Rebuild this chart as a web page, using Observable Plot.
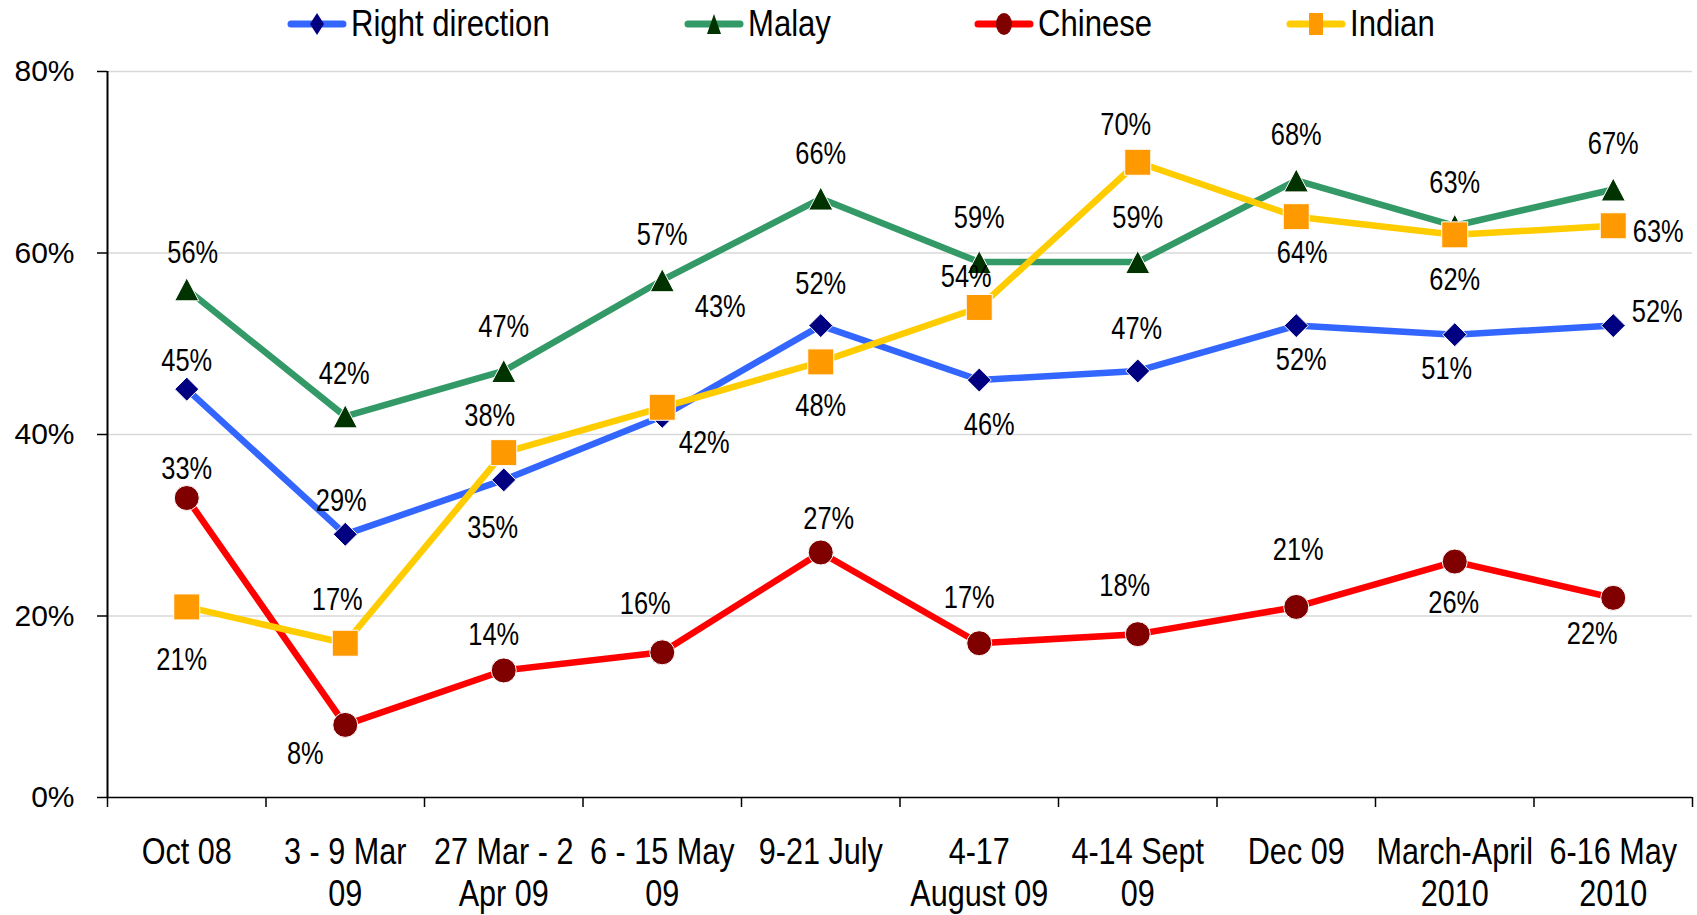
<!DOCTYPE html>
<html><head><meta charset="utf-8">
<script src="https://cdn.jsdelivr.net/npm/d3@7"></script>
<script src="https://cdn.jsdelivr.net/npm/@observablehq/plot@0.6"></script>
<style>
html,body{margin:0;padding:0;background:#fff;}
#wrap{width:1697px;height:915px;position:relative;overflow:hidden;background:#fff;}
#legend{position:relative;width:1697px;height:48px;font-family:"Liberation Sans",Arial,sans-serif;font-size:37px;color:#000;}
.item{position:absolute;top:0;height:48px;display:flex;align-items:center;white-space:nowrap;}
.item span{margin-left:4px;display:inline-block;transform:scaleX(0.84);transform-origin:left center;}
#chart svg{display:block;}
</style></head><body><div id="wrap"><div id="legend"></div><div id="chart"></div></div>
<script>
// ---- data ----
const categories = ["Oct 08","3 - 9 Mar\n09","27 Mar - 2\nApr 09","6 - 15 May\n09","9-21 July","4-17\nAugust 09","4-14 Sept\n09","Dec 09","March-April\n2010","6-16 May\n2010"];
const seriesNames = ["Right direction","Malay","Chinese","Indian"];
const rightDirection = [45,29,35,42,52,46,47,52,51,52];
const malay = [56,42,47,57,66,59,59,68,63,67];
const chinese = [33,8,14,16,27,17,18,21,26,22];
const indian = [21,17,38,43,48,54,70,64,62,63];
const yTicks = [0,20,40,60,80];

// ---- styles ----
const lineColors = ["#3366FF","#339966","#FF0000","#FFCC00"];
const markerColors = ["#000080","#003300","#800000","#FF9900"];
const font = '"Liberation Sans",Arial,sans-serif';
// label offsets [dx, dy] in px, per series / per point
const labelOffsets = [
  [[0,-28],[-4,-33],[-11,48],[42,27],[0,-42],[10,45],[-1,-42],[5,34],[-8,34],[44,-14]],
  [[6,-36],[-1,-42],[0,-44],[0,-45],[0,-44],[0,-44],[0,-44],[0,-45],[0,-43],[0,-45]],
  [[0,-29],[-40,29],[-10,-35],[-17,-48],[8,-33],[-10,-45],[-13,-48],[2,-57],[-1,42],[-21,36]],
  [[-5,53],[-8,-43],[-14,-37],[58,-100],[0,44],[-13,-30],[-12,-37],[6,36],[0,45],[45,6]]
];

const unit = s => Math.sqrt(s/Math.PI);
const symDiamond = {draw(c,s){const r=unit(s);c.moveTo(0,-r);c.lineTo(r,0);c.lineTo(0,r);c.lineTo(-r,0);c.closePath();}};
const symTriangle = {draw(c,s){const r=unit(s);c.moveTo(0,-r);c.lineTo(r*1.05,r);c.lineTo(-r*1.05,r);c.closePath();}};
const symCircle = {draw(c,s){const r=unit(s);c.moveTo(r,0);c.arc(0,0,r,0,2*Math.PI);}};
const symSquare = {draw(c,s){const r=unit(s);c.rect(-r,-r,2*r,2*r);}};
const symbols = [symDiamond, symTriangle, symCircle, symSquare];
const markerR = [12, 11.5, 12.5, 13];

const seriesData = [rightDirection, malay, chinese, indian];
const rows = [];
seriesData.forEach((vals, s) => vals.forEach((v, i) => rows.push({s, i, v, dx: labelOffsets[s][i][0], dy: labelOffsets[s][i][1]})));

const marks = [
  Plot.ruleY(yTicks.filter(d => d > 0), {stroke:"#d9d9d9", strokeWidth:1.5}),
  Plot.axisY({ticks: yTicks, tickFormat: d => d + "%", tickSize: 10, tickPadding: 23, fontSize: 30, fontFamily: font, strokeWidth: 1.5, color:"#000", label: null}),
  Plot.axisX({ticks: d3.range(10), tickFormat: i => categories[i], tickSize: 0, tickPadding: 37, fontSize: 36, lineHeight: 1.167, fontFamily: font, color:"#000", label: null}),
  Plot.axisX({ticks: d3.range(11).map(i => i - 0.5), tickFormat: () => "", tickSize: 10, strokeWidth: 1.5, color:"#000", label: null}),
  Plot.ruleY([0], {stroke:"#000", strokeWidth:1.5}),
  Plot.ruleX([-0.5], {stroke:"#000", strokeWidth:2})
];
[0,1,2,3].forEach(s => {
  const d = rows.filter(r => r.s === s);
  marks.push(Plot.line(d, {x:"i", y:"v", stroke: lineColors[s], strokeWidth: 6.5, strokeLinejoin:"round"}));
  marks.push(Plot.dot(d, {x:"i", y:"v", symbol: symbols[s], r: markerR[s], fill: markerColors[s], stroke:"#fff", strokeWidth:1}));
});
rows.forEach(r => {
  marks.push(Plot.text([r], {x:"i", y:"v", text: d => d.v + "%", dx: r.dx, dy: r.dy, fontSize: 31, fontFamily: font, fill:"#000"}));
});

const chart = Plot.plot({
  width: 1697, height: 867,
  marginLeft: 107, marginRight: 5, marginTop: 23, marginBottom: 118,
  x: {type:"linear", domain:[-0.5, 9.5], axis: null},
  y: {domain:[0, 80], axis: null},
  style: {background:"#fff", overflow:"visible"},
  marks
});
document.getElementById("chart").appendChild(chart);

// condense text (no narrow font available): squeeze glyphs horizontally
function condense(selector, factor) {
  chart.querySelectorAll(selector).forEach(t => {
    const spans = t.querySelectorAll("tspan");
    const targets = spans.length ? Array.from(spans) : [t];
    targets.forEach(el => {
      const w = el.getComputedTextLength();
      if (w > 0) {
        el.setAttribute("textLength", (w * factor).toFixed(2));
        el.setAttribute("lengthAdjust", "spacingAndGlyphs");
      }
    });
  });
}
condense('g[font-size="31"] text', 0.82);
condense('g[font-size="36"] text', 0.85);

// ---- legend ----
const legendLeft = [287, 684, 974, 1286];
const legendShapes = [
  (c) => `<path d="M30,4 L37,15 L30,26 L23,15Z" fill="${c}"/>`,
  (c) => `<path d="M30,5 L37,25 L23,25Z" fill="${c}"/>`,
  (c) => `<ellipse cx="30" cy="15" rx="8" ry="11" fill="${c}"/>`,
  (c) => `<rect x="23" y="4" width="14" height="22" fill="${c}"/>`
];
const legend = document.getElementById("legend");
seriesNames.forEach((name, s) => {
  const div = document.createElement("div");
  div.className = "item";
  div.style.left = legendLeft[s] + "px";
  div.innerHTML = `<svg width="60" height="30"><line x1="4" y1="15" x2="56" y2="15" stroke="${lineColors[s]}" stroke-width="7" stroke-linecap="round"/>${legendShapes[s](markerColors[s])}</svg><span>${name}</span>`;
  legend.appendChild(div);
});
</script></body></html>
